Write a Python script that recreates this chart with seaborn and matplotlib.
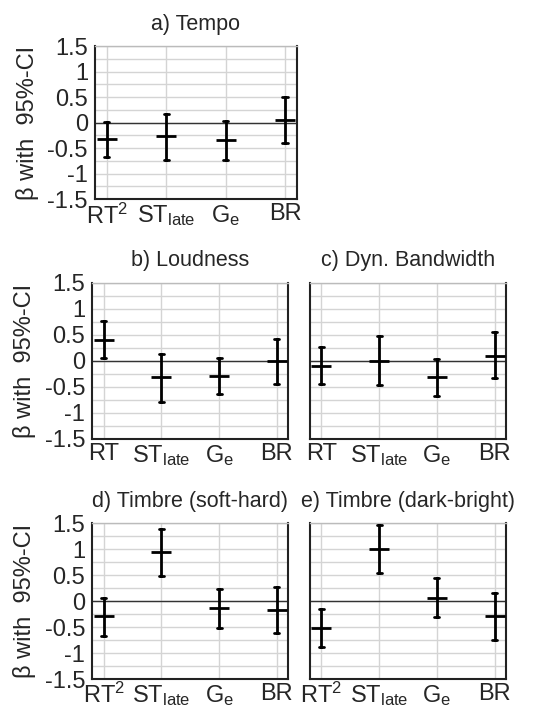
import numpy as np
import pandas as pd
import matplotlib
matplotlib.use("Agg")
import matplotlib.pyplot as plt
import seaborn as sns

sns.set_theme(style="white")
plt.rcParams['font.family'] = ['Liberation Sans', 'DejaVu Sans']
plt.rcParams['mathtext.default'] = 'regular'
plt.rcParams['axes.unicode_minus'] = False

# estimates and 95%-CI bounds
labels_rt2 = ["RT$^2$", "ST$_{late}$", "G$_e$", "BR"]
labels_rt = ["RT", "ST$_{late}$", "G$_e$", "BR"]

tempo_beta = [-0.33, -0.27, -0.34, 0.06]
tempo_lo = [-0.68, -0.73, -0.73, -0.39]
tempo_hi = [0.02, 0.17, 0.03, 0.50]

loud_beta = [0.41, -0.32, -0.29, -0.01]
loud_lo = [0.06, -0.80, -0.64, -0.45]
loud_hi = [0.76, 0.13, 0.06, 0.43]

dyn_beta = [-0.10, 0.00, -0.32, 0.10]
dyn_lo = [-0.45, -0.47, -0.68, -0.33]
dyn_hi = [0.26, 0.47, 0.03, 0.55]

soft_beta = [-0.29, 0.94, -0.14, -0.17]
soft_lo = [-0.67, 0.48, -0.52, -0.62]
soft_hi = [0.07, 1.39, 0.24, 0.27]

dark_beta = [-0.51, 1.00, 0.07, -0.29]
dark_lo = [-0.88, 0.55, -0.31, -0.75]
dark_hi = [-0.16, 1.47, 0.45, 0.15]

yticks = [-1.5, -1, -0.5, 0, 0.5, 1, 1.5]
ytick_labels = ["-1.5", "-1", "-0.5", "0", "0.5", "1", "1.5"]

FS = 17

panels = [
    ("a) Tempo", labels_rt2, tempo_beta, tempo_lo, tempo_hi, [0.176, 0.720, 0.375, 0.215], True),
    ("b) Loudness", labels_rt, loud_beta, loud_lo, loud_hi, [0.171, 0.383, 0.364, 0.219], True),
    ("c) Dyn. Bandwidth", labels_rt, dyn_beta, dyn_lo, dyn_hi, [0.575, 0.383, 0.364, 0.219], False),
    ("d) Timbre (soft-hard)", labels_rt2, soft_beta, soft_lo, soft_hi, [0.171, 0.045, 0.364, 0.219], True),
    ("e) Timbre (dark-bright)", labels_rt2, dark_beta, dark_lo, dark_hi, [0.575, 0.045, 0.364, 0.219], False),
]

fig = plt.figure(figsize=(5.39, 7.11), dpi=100)

for title, labels, beta, lo, hi, rect, ylab in panels:
    ax = fig.add_axes(rect)
    # long table: each predictor gets lo / beta / hi rows; median = beta, range = CI
    df = pd.DataFrame({
        "pred": np.repeat(labels, 3),
        "val": np.ravel(np.column_stack([lo, beta, hi])),
    })
    ax.axhline(0, color="#333333", lw=1.0, zorder=1)
    sns.pointplot(data=df, x="pred", y="val", estimator="median",
                  errorbar=lambda v: (v.min(), v.max()),
                  linestyle="none", marker="_", markersize=14, markeredgewidth=2,
                  color="black", capsize=0.09, err_kws={"linewidth": 2},
                  ax=ax, zorder=3)
    ax.set_xlim(-0.2, 3.2)
    ax.set_ylim(-1.5, 1.5)
    ax.set_yticks(yticks)
    ax.set_yticks(np.arange(-1.25, 1.5, 0.5), minor=True)
    if ylab:
        ax.set_yticklabels(ytick_labels)
        ax.set_ylabel("β with  95%-CI", fontsize=FS, labelpad=6)
    else:
        ax.set_yticklabels([])
        ax.set_ylabel("")
    ax.set_xlabel("")
    ax.grid(True, which="both", color="#d4d4d4", lw=1.0, zorder=0)
    ax.set_axisbelow(True)
    ax.tick_params(axis="y", which="both", length=0, labelsize=FS, pad=5)
    ax.tick_params(axis="x", which="both", length=0, labelsize=FS, pad=3)
    ax.set_title(title, fontsize=15.5, pad=12)
    for side in ["left", "bottom", "right"]:
        ax.spines[side].set_color("#222222")
        ax.spines[side].set_linewidth(1.5)
    ax.spines["top"].set_color("#bbbbbb")
    ax.spines["top"].set_linewidth(1.0)

fig.savefig("out.png", dpi=100)
